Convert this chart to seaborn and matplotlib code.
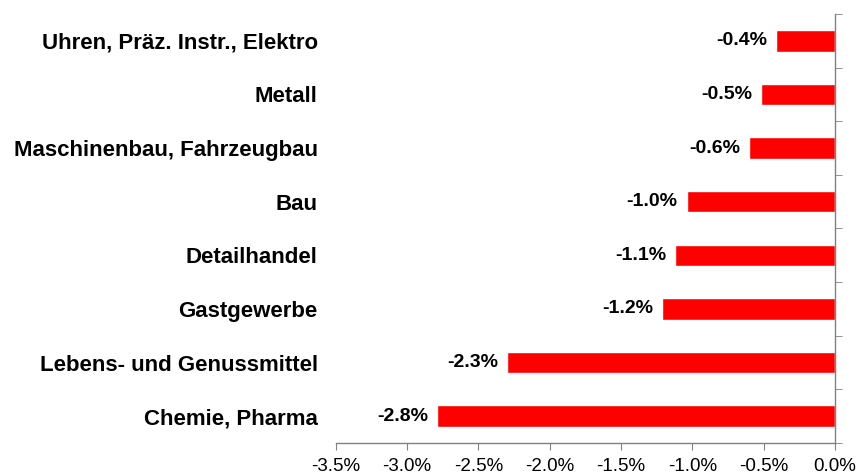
import matplotlib
matplotlib.use('Agg')
import matplotlib.pyplot as plt
import seaborn as sns
import pandas as pd
from matplotlib.ticker import FuncFormatter, MultipleLocator

branches = ['Uhren, Präz. Instr., Elektro', 'Metall', 'Maschinenbau, Fahrzeugbau', 'Bau',
            'Detailhandel', 'Gastgewerbe', 'Lebens- und Genussmittel', 'Chemie, Pharma']
changes = [-0.41, -0.52, -0.60, -1.04, -1.12, -1.21, -2.30, -2.79]

sns.set_style('white')
plt.rcParams['font.family'] = ['Liberation Sans', 'DejaVu Sans']
plt.rcParams['text.color'] = 'black'
plt.rcParams['xtick.color'] = 'black'
plt.rcParams['ytick.color'] = 'black'

df = pd.DataFrame({'branch': branches, 'change': changes})

fig = plt.figure(figsize=(8.59, 4.74), dpi=100)
ax = fig.add_axes([0.391, 0.0654, 0.581, 0.9051])

sns.barplot(data=df, x='change', y='branch', orient='h', color='#ff0000',
            width=0.4, saturation=1, ax=ax)

ax.set_xlim(-3.5, 0)
ax.set_ylim(7.5, -0.5)
ax.xaxis.set_major_locator(MultipleLocator(0.5))
ax.xaxis.set_major_formatter(FuncFormatter(lambda v, p: f'{v:.1f}%'))
ax.set_xlabel('')
ax.set_ylabel('')

for s in ['top', 'left']:
    ax.spines[s].set_visible(False)
for s in ['bottom', 'right']:
    ax.spines[s].set_color('#808080')
    ax.spines[s].set_linewidth(1)

ax.tick_params(axis='x', which='major', bottom=True, direction='out', length=5,
               color='#808080', labelcolor='black', labelsize=13.5, pad=6)
ax.tick_params(axis='y', which='major', left=False, right=False, pad=9.5,
               labelcolor='black')
ax.set_yticks(range(len(branches)))
ax.set_yticklabels(branches, fontsize=16, fontweight='bold')
ax.set_yticks([i - 0.5 for i in range(len(branches) + 1)], minor=True)
ax.tick_params(axis='y', which='minor', left=False, right=True, direction='out',
               length=5, color='#808080')

ax.bar_label(ax.containers[0], labels=[f'{v:.1f}%' for v in changes], padding=6.5,
             fontsize=14, fontweight='bold', color='black')

fig.savefig('out.png', dpi=100)
